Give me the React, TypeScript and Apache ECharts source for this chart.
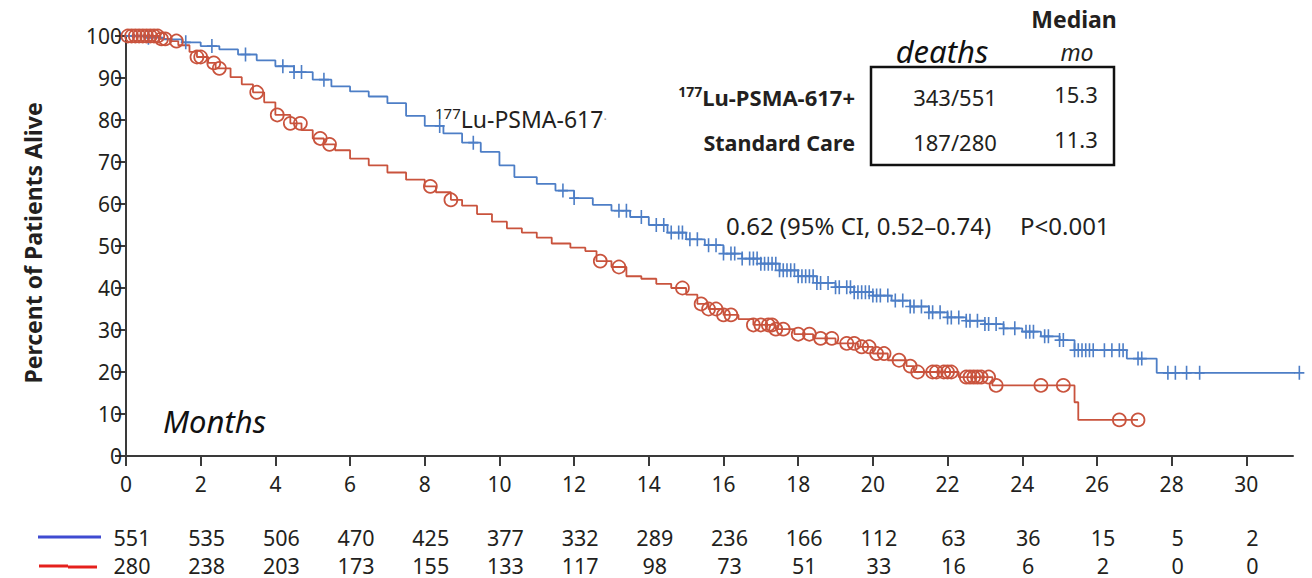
import { useEffect, useRef } from "react";
import * as echarts from "echarts";

const xTicks = [0, 2, 4, 6, 8, 10, 12, 14, 16, 18, 20, 22, 24, 26, 28, 30];
const riskLu = [551, 535, 506, 470, 425, 377, 332, 289, 236, 166, 112, 63, 36, 15, 5, 2];
const riskSoc = [280, 238, 203, 173, 155, 133, 117, 98, 73, 51, 33, 16, 6, 2, 0, 0];

const luTimes = [0, 0.5, 1.0, 1.5, 2.0, 2.5, 3.0, 3.5, 4.0, 4.5, 5.0, 5.5, 6.0, 6.5, 7.0, 7.5, 8.0, 8.5, 9.0, 9.5, 10.0, 10.4, 11.0, 11.5, 12.0, 12.5, 13.0, 13.5, 14.0, 14.5, 15.0, 15.5, 16.0, 16.5, 17.0, 17.5, 18.0, 18.5, 19.0, 19.5, 20.0, 20.5, 21.0, 21.5, 22.0, 22.5, 23.0, 23.5, 24.0, 24.5, 25.0, 25.4, 26.8, 27.6, 31.42];
const luSurv = [100, 99.6, 99.2, 98.5, 97.6, 96.8, 95.6, 94.2, 92.8, 91.4, 89.6, 88.0, 86.8, 85.6, 84.0, 81.0, 78.6, 76.8, 74.6, 72.4, 69.2, 66.4, 64.8, 63.2, 61.4, 59.8, 58.4, 56.9, 55.0, 53.2, 51.6, 50.2, 48.2, 47.0, 45.8, 44.2, 42.8, 41.2, 40.2, 39.0, 38.2, 37.0, 35.6, 34.2, 33.0, 32.2, 31.4, 30.4, 29.6, 28.5, 27.6, 25.2, 23.2, 19.8, 19.8];

const socTimes = [0, 0.9, 1.2, 1.4, 1.7, 1.9, 2.2, 2.4, 2.8, 3.1, 3.4, 3.7, 4.0, 4.4, 4.7, 5.0, 5.3, 5.6, 6.0, 6.5, 7.0, 7.5, 8.0, 8.3, 8.7, 9.0, 9.4, 9.8, 10.2, 10.6, 11.0, 11.4, 11.9, 12.3, 12.6, 13.0, 13.4, 13.8, 14.2, 14.6, 15.0, 15.3, 15.6, 16.0, 16.4, 16.8, 17.4, 17.9, 18.4, 19.0, 19.6, 20.0, 20.4, 20.9, 21.1, 22.3, 23.2, 25.4, 25.5, 27.1];
const socSurv = [100, 99.3, 98.8, 97.8, 96.2, 95.0, 93.6, 92.3, 90.2, 88.5, 86.6, 84.2, 81.2, 79.2, 77.6, 75.6, 74.2, 72.8, 70.8, 69.2, 67.5, 65.8, 64.2, 62.8, 61.0, 59.6, 57.6, 55.8, 54.2, 53.2, 52.0, 50.6, 49.6, 48.8, 46.4, 45.0, 42.8, 42.2, 41.0, 40.0, 38.4, 36.2, 35.0, 33.6, 32.6, 31.2, 30.2, 29.0, 28.0, 26.8, 26.0, 24.4, 22.8, 21.4, 20.0, 18.8, 16.8, 12.8, 8.6, 8.6];

const luCensor = [0.6, 1.6, 2.3, 3.2, 4.2, 4.5, 4.7, 5.3, 8.4, 9.3, 11.7, 12.0, 13.2, 13.4, 13.8, 14.2, 14.4, 14.6, 14.8, 14.9, 15.1, 15.3, 15.6, 15.8, 16.0, 16.2, 16.3, 16.5, 16.7, 16.8, 16.9, 17.0, 17.1, 17.2, 17.3, 17.4, 17.5, 17.6, 17.7, 17.8, 17.9, 18.0, 18.1, 18.2, 18.3, 18.4, 18.5, 18.6, 18.8, 19.0, 19.1, 19.3, 19.4, 19.5, 19.6, 19.7, 19.8, 19.9, 20.0, 20.1, 20.2, 20.4, 20.6, 20.8, 21.0, 21.1, 21.3, 21.5, 21.6, 21.8, 22.0, 22.1, 22.3, 22.5, 22.6, 22.8, 23.0, 23.1, 23.3, 23.5, 23.8, 24.1, 24.2, 24.3, 24.6, 24.7, 25.0, 25.1, 25.4, 25.5, 25.6, 25.7, 25.8, 25.9, 26.2, 26.4, 26.6, 26.7, 27.1, 27.2, 27.9, 28.1, 28.4, 28.75, 31.42];
const socCensor = [0.05, 0.15, 0.25, 0.35, 0.45, 0.55, 0.65, 0.75, 0.85, 0.95, 1.05, 1.35, 1.9, 2.0, 2.35, 2.5, 3.5, 4.05, 4.4, 4.67, 5.2, 5.45, 8.15, 8.7, 12.7, 13.2, 14.9, 15.4, 15.6, 15.8, 16.0, 16.2, 16.8, 17.0, 17.2, 17.3, 17.4, 17.6, 18.0, 18.3, 18.6, 18.9, 19.3, 19.5, 19.7, 19.9, 20.1, 20.3, 20.7, 21.0, 21.2, 21.6, 21.7, 21.9, 22.0, 22.1, 22.5, 22.6, 22.7, 22.8, 22.9, 23.1, 23.3, 24.5, 25.1, 26.6, 27.1];

const BLUE = "#4d7ec6";
const RED = "#c9533d";
const TEXT = "#231f20";
const FONT = "'Noto Sans', 'Open Sans', sans-serif";

function stairs(times: number[], surv: number[]) {
  const out: number[][] = [[times[0], surv[0]]];
  for (let i = 1; i < times.length; i++) {
    out.push([times[i], surv[i - 1]]);
    out.push([times[i], surv[i]]);
  }
  return out;
}

function survAt(times: number[], surv: number[], t: number) {
  let v = surv[0];
  for (let i = 0; i < times.length; i++) {
    if (times[i] <= t) v = surv[i];
  }
  return v;
}

const crossPath = "path://M42,0h16v100h-16z M0,44h100v12h-100z";

function txt(x: number, y: number, text: string, size: number, extra: any = {}) {
  return {
    type: "text",
    x,
    y,
    style: { text, fontSize: size, fontFamily: FONT, fill: TEXT, align: "center", verticalAlign: "middle", ...extra },
  };
}

export default function App() {
  const ref = useRef<HTMLDivElement>(null);
  useEffect(() => {
    if (!ref.current) return;
    const chart = echarts.init(ref.current, undefined, { renderer: "svg" });
    chart.setOption({
      animation: false,
      backgroundColor: "#ffffff",
      grid: { left: 126, top: 36, right: 19, bottom: 122, containLabel: false },
      xAxis: {
        type: "value",
        min: 0,
        max: 31.25,
        interval: 2,
        splitLine: { show: false },
        axisLine: { show: true, lineStyle: { color: "#3a3a3a", width: 2 } },
        axisTick: { show: true, length: 10, customValues: xTicks, lineStyle: { color: "#3a3a3a", width: 2 } },
        axisLabel: { customValues: xTicks, fontSize: 21, color: TEXT, fontFamily: FONT, margin: 17 },
      },
      yAxis: {
        type: "value",
        min: 0,
        max: 100,
        interval: 10,
        splitLine: { show: false },
        axisLine: { show: true, lineStyle: { color: "#3a3a3a", width: 2 } },
        axisTick: { show: true, length: 11, lineStyle: { color: "#3a3a3a", width: 2 } },
        axisLabel: { fontSize: 21, color: TEXT, fontFamily: FONT, margin: 4 },
      },
      series: [
        {
          type: "line",
          data: stairs(socTimes, socSurv),
          showSymbol: false,
          clip: false,
          lineStyle: { color: RED, width: 1.8 },
          z: 2,
        },
        {
          type: "line",
          data: stairs(luTimes, luSurv),
          showSymbol: false,
          clip: false,
          lineStyle: { color: BLUE, width: 1.8 },
          z: 3,
        },
        {
          type: "scatter",
          data: luCensor.map((t) => [t, survAt(luTimes, luSurv, t)]),
          symbol: crossPath,
          symbolSize: [10, 14],
          clip: false,
          itemStyle: { color: BLUE, opacity: 1 },
          z: 4,
        },
        {
          type: "scatter",
          data: socCensor.map((t) => [t, survAt(socTimes, socSurv, t)]),
          symbol: "circle",
          symbolSize: 13,
          clip: false,
          itemStyle: { color: "rgba(255,255,255,0)", borderColor: RED, borderWidth: 1.7, opacity: 1 },
          z: 4,
        },
      ],
    });

    const riskTexts: any[] = [];
    xTicks.forEach((t, i) => {
      const px = chart.convertToPixel({ xAxisIndex: 0 }, t) as number;
      riskTexts.push(txt(px + 6, 537, String(riskLu[i]), 21.5, { lineHeight: 20 }));
      riskTexts.push(txt(px + 6, 565, String(riskSoc[i]), 21.5, { lineHeight: 20 }));
    });

    chart.setOption({
      graphic: [
        {
          type: "text",
          x: 33,
          y: 243,
          rotation: Math.PI / 2,
          style: { text: "Percent of Patients Alive", fontSize: 23, fontWeight: "bold", fontFamily: FONT, fill: TEXT, align: "center", verticalAlign: "middle" },
        },
        txt(163, 421, "Months", 31, { fontStyle: "italic", fill: "#111", align: "left" }),
        {
          type: "text",
          x: 435,
          y: 119,
          style: {
            text: "{s|177}{n|Lu-PSMA-617}{d|·}",
            fontFamily: FONT,
            fill: TEXT,
            align: "left",
            verticalAlign: "middle",
            rich: {
              s: { fontSize: 15, fontFamily: FONT, fill: TEXT, verticalAlign: "top", lineHeight: 28 },
              n: { fontSize: 23, fontFamily: FONT, fill: TEXT, lineHeight: 28 },
              d: { fontSize: 13, fontFamily: FONT, fill: "#999", lineHeight: 28 },
            },
          },
        },
        txt(1074, 19, "Median", 23, { fontWeight: "bold" }),
        txt(942, 51, "deaths", 31, { fontStyle: "italic", fill: "#111" }),
        txt(1077, 52, "mo", 23, { fontStyle: "italic" }),
        {
          type: "rect",
          shape: { x: 871, y: 67, width: 243, height: 98 },
          style: { fill: "none", stroke: "#111", lineWidth: 2.5 },
        },
        txt(955, 97, "343/551", 22),
        txt(1076, 94, "15.3", 22),
        txt(955, 142, "187/280", 22),
        txt(1076, 139, "11.3", 22),
        {
          type: "text",
          x: 855,
          y: 97,
          style: {
            text: "{s|177}{b|Lu-PSMA-617+}",
            fontFamily: FONT,
            fill: TEXT,
            align: "right",
            verticalAlign: "middle",
            rich: {
              s: { fontSize: 14, fontWeight: "bold", fontFamily: FONT, fill: TEXT, verticalAlign: "top", lineHeight: 26 },
              b: { fontSize: 22, fontWeight: "bold", fontFamily: FONT, fill: TEXT, lineHeight: 26 },
            },
          },
        },
        txt(855, 142, "Standard Care", 21.5, { fontWeight: "bold", align: "right" }),
        txt(726, 225, "0.62 (95% CI, 0.52–0.74)", 24, { align: "left" }),
        txt(1020, 225, "P<0.001", 24, { align: "left" }),
        {
          type: "line",
          shape: { x1: 38, y1: 537, x2: 101, y2: 537 },
          style: { stroke: "#3f4bd1", lineWidth: 3 },
        },
        {
          type: "line",
          shape: { x1: 39, y1: 566, x2: 68, y2: 566 },
          style: { stroke: "#e5201c", lineWidth: 3 },
        },
        {
          type: "line",
          shape: { x1: 68, y1: 567, x2: 97, y2: 567 },
          style: { stroke: "#e5201c", lineWidth: 3 },
        },
        ...riskTexts,
      ],
    });

    return () => chart.dispose();
  }, []);

  return (
    <div
      ref={ref}
      style={{ position: "fixed", left: 0, top: 0, width: 1312, height: 578, background: "#fff" }}
    />
  );
}
